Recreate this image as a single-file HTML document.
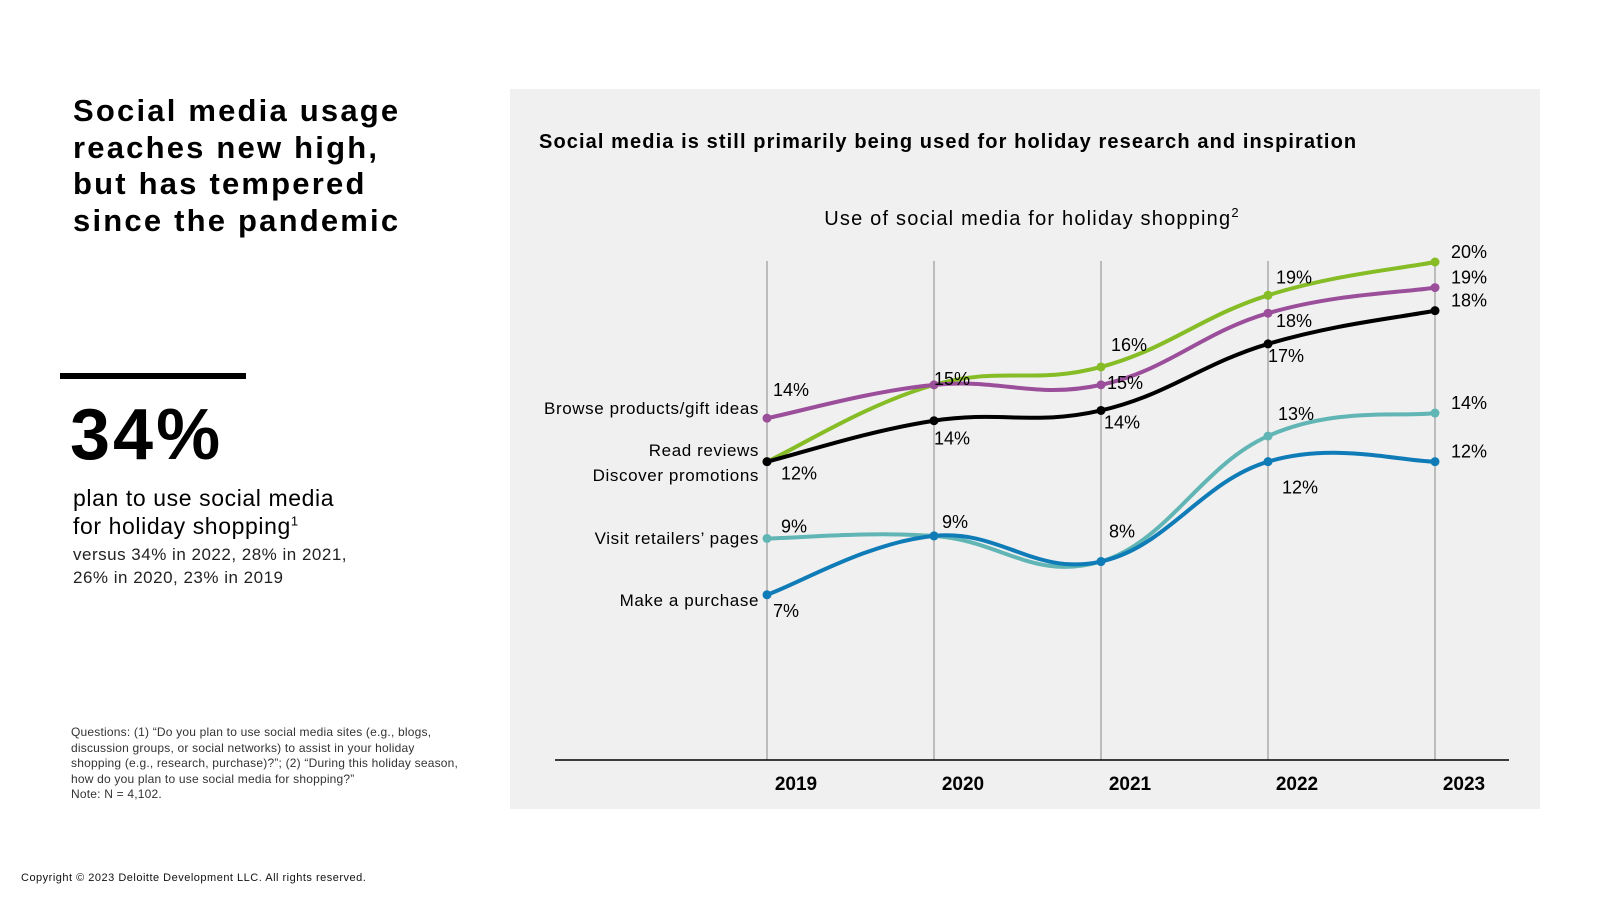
<!DOCTYPE html>
<html><head><meta charset="utf-8"><style>
body{margin:0;width:1600px;height:900px;background:#fff;font-family:"Liberation Sans",sans-serif;position:relative;overflow:hidden}
.a{position:absolute;margin:0}
</style></head><body>
<div class="a" style="left:73px;top:93px;font-size:31px;font-weight:bold;line-height:36.5px;letter-spacing:2.2px">Social media usage<br>reaches new high,<br>but has tempered<br>since the pandemic</div>
<div class="a" style="left:60px;top:373px;width:186px;height:6px;background:#000"></div>
<div class="a" style="left:70px;top:395px;font-size:72px;font-weight:bold;line-height:80px;letter-spacing:3px">34%</div>
<div class="a" style="left:73px;top:484px;font-size:23px;line-height:28px;letter-spacing:0.6px">plan to use social media<br>for holiday shopping<sup style="font-size:13px;line-height:0">1</sup></div>
<div class="a" style="left:73px;top:543px;font-size:17px;line-height:23px;color:#222;letter-spacing:0.5px">versus 34% in 2022, 28% in 2021,<br>26% in 2020, 23% in 2019</div>
<div class="a" style="left:71px;top:725px;font-size:12px;line-height:15.5px;color:#333;width:395px;letter-spacing:0.2px">Questions: (1) “Do you plan to use social media sites (e.g., blogs, discussion groups, or social networks) to assist in your holiday shopping (e.g., research, purchase)?”; (2) “During this holiday season, how do you plan to use social media for shopping?”<br>Note: N = 4,102.</div>
<div class="a" style="left:21px;top:872px;font-size:11px;color:#111;letter-spacing:0.5px">Copyright © 2023 Deloitte Development LLC. All rights reserved.</div>
<div class="a" style="left:510px;top:89px;width:1030px;height:720px;background:#f0f0f0"></div>
<svg class="a" style="left:0;top:0" width="1600" height="900" id="chart">
<text x="539" y="148" font-size="20" font-weight="bold" font-family="Liberation Sans" letter-spacing="1.1">Social media is still primarily being used for holiday research and inspiration</text>
<text x="1032" y="225" font-size="20" text-anchor="middle" font-family="Liberation Sans" letter-spacing="1.2">Use of social media for holiday shopping<tspan font-size="13" dy="-8">2</tspan></text>
</svg>
<script>
const years=["2019","2020","2021","2022","2023"];
const seriesNames=["Browse products/gift ideas","Read reviews","Discover promotions","Visit retailers’ pages","Make a purchase"];
const browse=[13.9,15.2,15.2,18.0,19.0];
const reviews=[12.2,15.2,15.9,18.7,20.0];
const promos=[12.2,13.8,14.2,16.8,18.1];
const retailers=[9.2,9.3,8.3,13.2,14.1];
const purchase=[7.0,9.3,8.3,12.2,12.2];
const browseLabels=["14%","15%","15%","18%","19%"];
const reviewsLabels=["","","16%","19%","20%"];
const promosLabels=["12%","14%","14%","17%","18%"];
const retailersLabels=["9%","9%","8%","13%","14%"];
const purchaseLabels=["7%","","","12%","12%"];
const svg=document.getElementById('chart');
const NS="http://www.w3.org/2000/svg";
const x0=767,dx=167,yBase=774,yPer=25.6;
const X=i=>x0+i*dx, Y=v=>yBase-v*yPer;
function mk(t,a){const e=document.createElementNS(NS,t);for(const k in a)e.setAttribute(k,a[k]);svg.appendChild(e);return e;}
years.forEach((yr,i)=>{
 const g=mk('line',{x1:X(i),x2:X(i),y1:261,y2:760,stroke:'#888','stroke-width':1});
 
 
 const t=mk('text',{x:X(i)+29,y:790,'font-size':19,'font-weight':'bold','text-anchor':'middle','font-family':'Liberation Sans'});
 t.textContent=yr;
 
 
});
const ax=mk('line',{x1:555,x2:1509,y1:760,y2:760,stroke:'#000','stroke-width':1.5});


function path(vals){const p=vals.map((v,i)=>[X(i),Y(v)]);let d='M'+p[0];for(let i=0;i<p.length-1;i++){const a=p[i-1]||p[i],b=p[i],c=p[i+1],e=p[i+2]||c;const t=0.2;d+=` C${b[0]+(c[0]-a[0])*t},${b[1]+(c[1]-a[1])*t} ${c[0]-(e[0]-b[0])*t},${c[1]-(e[1]-b[1])*t} ${c[0]},${c[1]}`;}return d;}
const series=[
 {n:'retailers',v:retailers,l:retailersLabels,c:'#62b5b5',off:[[14,-6],[8,-8],[8,-24],[10,-16],[16,-4]]},
 {n:'purchase',v:purchase,l:purchaseLabels,c:'#0f7cb8',off:[[6,22],[0,0],[0,0],[14,32],[16,-4]]},
 {n:'reviews',v:reviews,l:reviewsLabels,c:'#86bc25',off:[[0,0],[8,-10],[10,-16],[8,-12],[16,-4]]},
 {n:'browse',v:browse,l:browseLabels,c:'#9b4f9b',off:[[6,-22],[0,0],[6,4],[8,14],[16,-4]]},
 {n:'promos',v:promos,l:promosLabels,c:'#000',off:[[14,18],[0,24],[3,18],[0,18],[16,-4]]}
];
series.forEach(s=>{
 const p=mk('path',{d:path(s.v),fill:'none',stroke:s.c,'stroke-width':4});
 
 
 s.v.forEach((v,i)=>{
  const c=mk('circle',{cx:X(i),cy:Y(v),r:4.5,fill:s.c});
  
  
 });
});
series.forEach(s=>{s.v.forEach((v,i)=>{if(!s.l[i])return;
 const t=mk('text',{x:X(i)+s.off[i][0],y:Y(v)+s.off[i][1],'font-size':18,'font-family':'Liberation Sans'});
 t.textContent=s.l[i];
 
 
});});
const lab=[[seriesNames[0],414],[seriesNames[1],456],[seriesNames[2],481],[seriesNames[3],544],[seriesNames[4],606]];
lab.forEach(([n,y])=>{
 const t=mk('text',{x:759,y:y,'font-size':17,'text-anchor':'end','font-family':'Liberation Sans','letter-spacing':0.6});
 t.textContent=n;
 
 
});
</script>
</body></html>
